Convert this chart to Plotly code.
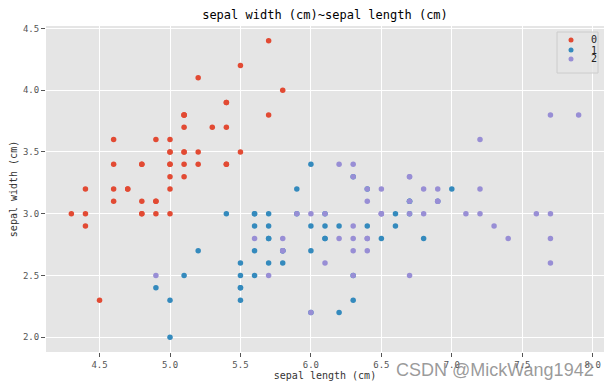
import plotly.graph_objects as go

classes = ["0", "1", "2"]
colors = ["#E24A33", "#348ABD", "#988ED5"]

setosa_len = [5.1,4.9,4.7,4.6,5.0,5.4,4.6,5.0,4.4,4.9,5.4,4.8,4.8,4.3,5.8,5.7,5.4,5.1,5.7,5.1,5.4,5.1,4.6,5.1,4.8,5.0,5.0,5.2,5.2,4.7,4.8,5.4,5.2,5.5,4.9,5.0,5.5,4.9,4.4,5.1,5.0,4.5,4.4,5.0,5.1,4.8,5.1,4.6,5.3,5.0]
setosa_wid = [3.5,3.0,3.2,3.1,3.6,3.9,3.4,3.4,2.9,3.1,3.7,3.4,3.0,3.0,4.0,4.4,3.9,3.5,3.8,3.8,3.4,3.7,3.6,3.3,3.4,3.0,3.4,3.5,3.4,3.2,3.1,3.4,4.1,4.2,3.1,3.2,3.5,3.6,3.0,3.4,3.5,2.3,3.2,3.5,3.8,3.0,3.8,3.2,3.7,3.3]

versi_len = [7.0,6.4,6.9,5.5,6.5,5.7,6.3,4.9,6.6,5.2,5.0,5.9,6.0,6.1,5.6,6.7,5.6,5.8,6.2,5.6,5.9,6.1,6.3,6.1,6.4,6.6,6.8,6.7,6.0,5.7,5.5,5.5,5.8,6.0,5.4,6.0,6.7,6.3,5.6,5.5,5.5,6.1,5.8,5.0,5.6,5.7,5.7,6.2,5.1,5.7]
versi_wid = [3.2,3.2,3.1,2.3,2.8,2.8,3.3,2.4,2.9,2.7,2.0,3.0,2.2,2.9,2.9,3.1,3.0,2.7,2.2,2.5,3.2,2.8,2.5,2.8,2.9,3.0,2.8,3.0,2.9,2.6,2.4,2.4,2.7,2.7,3.0,3.4,3.1,2.3,3.0,2.5,2.6,3.0,2.6,2.3,2.7,3.0,2.9,2.9,2.5,2.8]

virg_len = [6.3,5.8,7.1,6.3,6.5,7.6,4.9,7.3,6.7,7.2,6.5,6.4,6.8,5.7,5.8,6.4,6.5,7.7,7.7,6.0,6.9,5.6,7.7,6.3,6.7,7.2,6.2,6.1,6.4,7.2,7.4,7.9,6.4,6.3,6.1,7.7,6.3,6.4,6.0,6.9,6.7,6.9,5.8,6.8,6.7,6.7,6.3,6.5,6.2,5.9]
virg_wid = [3.3,2.7,3.0,2.9,3.0,3.0,2.5,2.9,2.5,3.6,3.2,2.7,3.0,2.5,2.8,3.2,3.0,3.8,2.6,2.2,3.2,2.8,2.8,2.7,3.3,3.2,2.8,3.0,2.8,3.0,2.8,3.8,2.8,2.8,2.6,3.0,3.4,3.1,3.0,3.1,3.1,3.1,2.7,3.2,3.3,3.0,2.5,3.0,3.4,3.0]

x_ticks = [4.5, 5.0, 5.5, 6.0, 6.5, 7.0, 7.5, 8.0]
y_ticks = [2.0, 2.5, 3.0, 3.5, 4.0, 4.5]

MONO = "DejaVu Sans Mono"
W, H = 610, 390
ML, MR, MT, MB = 46, 6, 26, 38
PW, PH = W - ML - MR, H - MT - MB

def px(x):  # pixel -> paper x
    return (x - ML) / PW

def py(y):  # pixel -> paper y
    return (H - MB - y) / PH

data = [(setosa_len, setosa_wid), (versi_len, versi_wid), (virg_len, virg_wid)]

fig = go.Figure()
for name, color, (xs, ys) in zip(classes, colors, data):
    fig.add_trace(go.Scatter(x=xs, y=ys, mode="markers", name=name, showlegend=False,
                             marker=dict(color=color, size=5.5, line=dict(width=0))))

axis_common = dict(showgrid=True, gridcolor="white", gridwidth=1, zeroline=False,
                   ticks="outside", ticklen=4, tickcolor="#555555", tickwidth=1,
                   tickfont=dict(family=MONO, size=9, color="#555555"),
                   showline=False, automargin=False)

fig.update_layout(
    width=W, height=H,
    margin=dict(l=ML, r=MR, t=MT, b=MB, pad=0),
    paper_bgcolor="white", plot_bgcolor="#E5E5E5",
    title=dict(text="sepal width (cm)~sepal length (cm)", xref="paper", x=0.5, xanchor="center",
               yref="container", y=1 - 15 / H, yanchor="middle",
               font=dict(family=MONO, size=12, color="black")),
    xaxis=dict(range=[4.12, 8.08], tickvals=x_ticks, ticktext=[f"{v:.1f}" for v in x_ticks],
               title=dict(text="sepal length (cm)", font=dict(family=MONO, size=10, color="#333333"), standoff=3),
               **axis_common),
    yaxis=dict(range=[1.88, 4.52], tickvals=y_ticks, ticktext=[f"{v:.1f}" for v in y_ticks],
               title=dict(text="sepal width (cm)", font=dict(family=MONO, size=10, color="#333333"), standoff=3),
               **axis_common),
    showlegend=False,
)

# legend box (matplotlib-style, drawn inside the axes)
fig.add_shape(type="rect", xref="paper", yref="paper",
              x0=px(557), x1=px(598), y0=py(73), y1=py(32),
              fillcolor="rgba(229,229,229,0.8)", line=dict(color="#CCCCCC", width=1), layer="above")
item_y = [40, 50, 59]
for name, color, yy in zip(classes, colors, item_y):
    fig.add_shape(type="circle", xref="paper", yref="paper",
                  xsizemode="pixel", ysizemode="pixel",
                  xanchor=px(571), yanchor=py(yy), x0=-2.5, x1=2.5, y0=-2.5, y1=2.5,
                  fillcolor=color, line=dict(width=0), layer="above")
    fig.add_annotation(text=name, xref="paper", yref="paper", x=px(589), y=py(yy),
                       xanchor="left", yanchor="middle", showarrow=False,
                       font=dict(family=MONO, size=10, color="#222222"))

fig.add_annotation(text="CSDN @MickWang1942", xref="paper", yref="paper",
                   x=px(596), y=py(370), xanchor="right", yanchor="middle", showarrow=False,
                   font=dict(family="Liberation Sans", size=18, color="rgba(110,110,110,0.7)"))

fig.write_html("out.html", config={"displayModeBar": False},
               post_script="document.body.style.margin='0';")
